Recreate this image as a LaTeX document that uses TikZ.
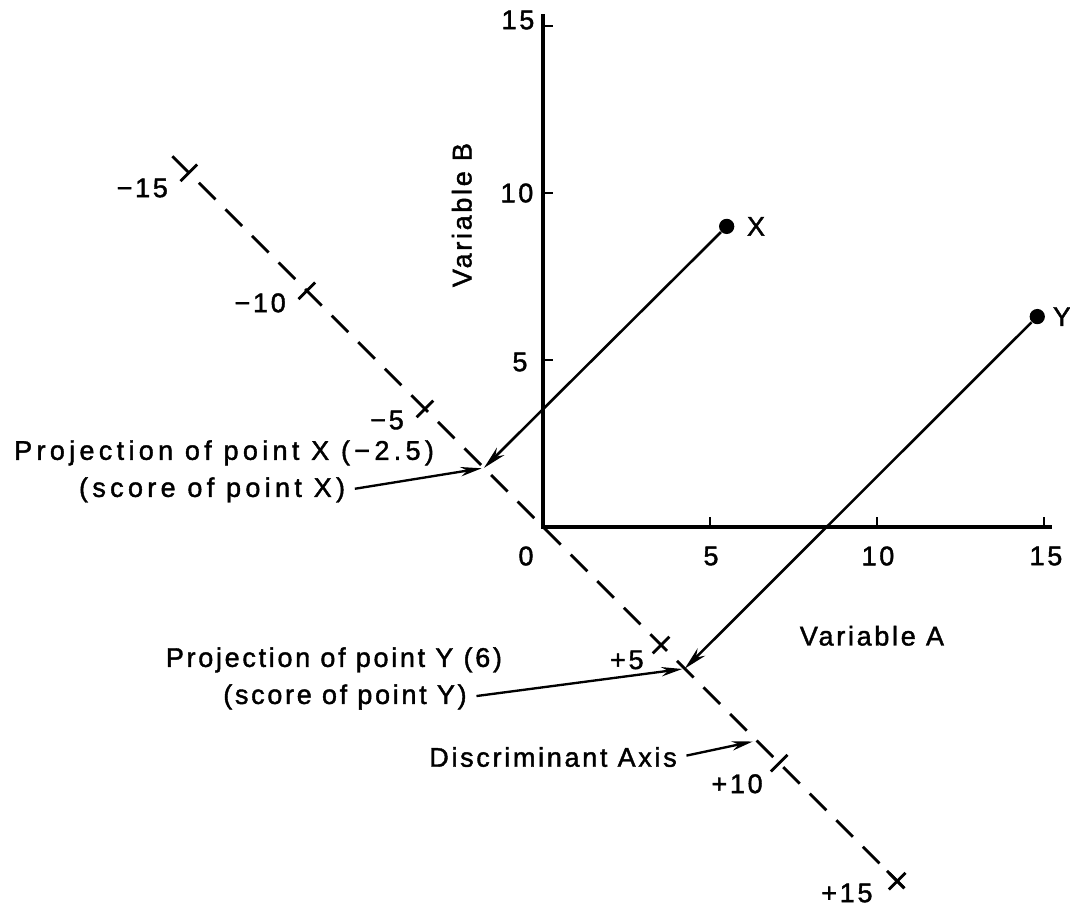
\documentclass[tikz,border=0pt]{standalone}
\usepackage{fontspec}
\setmainfont{Liberation Sans}[LetterSpace=10, FakeBold=1.5]
\usetikzlibrary{positioning,arrows.meta}

\begin{document}
\begin{tikzpicture}[
  x=0.5cm, y=0.5cm,
  font=\fontsize{11.5}{14}\selectfont,
  ax/.style={line width=1.4pt},
  tk/.style={line width=1.2pt},
  disc/.style={line width=1.2pt, dash pattern=on 10pt off 6pt},
  dot/.style={circle, fill=black, inner sep=0pt, minimum size=6.5pt},
  txt/.style={inner sep=1pt},
  wide/.style={txt, font={\fontsize{11.5}{14}\selectfont\addfontfeatures{LetterSpace=16}}},
  proj/.style={-{Stealth[length=10pt,width=4.5pt]}, line width=1.1pt},
  ptr/.style={-{Stealth[length=9pt,width=4pt]}, line width=1pt, shorten <=3pt, shorten >=1pt}
]
\useasboundingbox (-16.26,-11.44) rectangle (15.78,15.78);

\coordinate (O) at (0,0);
\coordinate (xend) at (15.25,0);
\coordinate (yend) at (0,15.35);
\draw[ax] (yend) -- (O) -- (xend);
\draw[tk] (5,0) -- ++(0,0.3) (10,0) -- ++(0,0.3) (15,0) -- ++(0,0.3);
\draw[tk] (0,5) -- ++(0.3,0) (0,10) -- ++(0.3,0) (0,15) -- ++(0.3,0);

\node[txt] (a0)  at (-0.51,-0.87) {0};
\node[txt] (a5)  at (5.03,-0.87)  {5};
\node[txt] (a10) at (10.03,-0.87) {10};
\node[txt] (a15) at (15.06,-0.87) {15};
\node[txt] (b5)  at (-0.69,4.94)  {5};
\node[txt] (b10) at (-0.78,10.0)  {10};
\node[txt] (b15) at (-0.75,15.18) {15};

\coordinate (dS) at (-11.10,11.10);
\coordinate (dE) at (10.82,-10.82);
\draw[disc] (dS) -- (dE);
\draw[tk] (10.3,-10.3) -- (dE);
\draw[tk] (-10.857,10.357) -- ++(0.5,0.5) (-7.321,6.821) -- ++(0.5,0.5)
          (-3.786,3.286) -- ++(0.5,0.5) (3.286,-3.786) -- ++(0.5,0.5)
          (6.821,-7.321) -- ++(0.5,0.5) (10.357,-10.857) -- ++(0.5,0.5);

\node[txt] (dl1) at (-12.0,10.15) {−15};
\node[txt] (dl2) at (-8.47,6.71)  {−10};
\node[txt] (dl3) at (-4.67,3.20)  {−5};
\node[txt] (dl4) at (2.51,-3.98)  {+5};
\node[txt] (dl5) at (5.81,-7.69)  {+10};
\node[txt] (dl6) at (9.10,-10.96) {+15};

\coordinate (prX) at (-1.768,1.768);
\coordinate (prY) at (4.243,-4.243);
\node[dot] (ptX) at (5.5,9) {};
\node[dot] (ptY) at (14.8,6.3) {};
\node[txt, right=4pt of ptX] (nX) {X};
\node[txt, right=2pt of ptY] (nY) {Y};
\draw[proj] (ptX) -- (prX);
\draw[proj] (ptY) -- (prY);

\node[txt, rotate=90] (varB) at (-2.43,9.34) {Variable B};
\node[txt] (varA) at (9.85,-3.26) {Variable A};

\node[wide] (lbX1) at (-9.55,2.22) {Projection of point X (−2.5)};
\node[wide] (lbX2) at (-9.91,1.11) {(score of point X)};
\draw[ptr] (lbX2.east) -- (prX);

\node[txt] (lbY1) at (-6.26,-3.98) {Projection of point Y (6)};
\node[txt] (lbY2) at (-5.93,-5.09) {(score of point Y)};
\draw[ptr] (lbY2.east) -- (prY);

\node[txt] (lbD) at (0.30,-6.89) {Discriminant Axis};
\coordinate (dTip) at (6.35,-6.41);
\draw[ptr] (lbD.east) -- (dTip);
\end{tikzpicture}
\end{document}
